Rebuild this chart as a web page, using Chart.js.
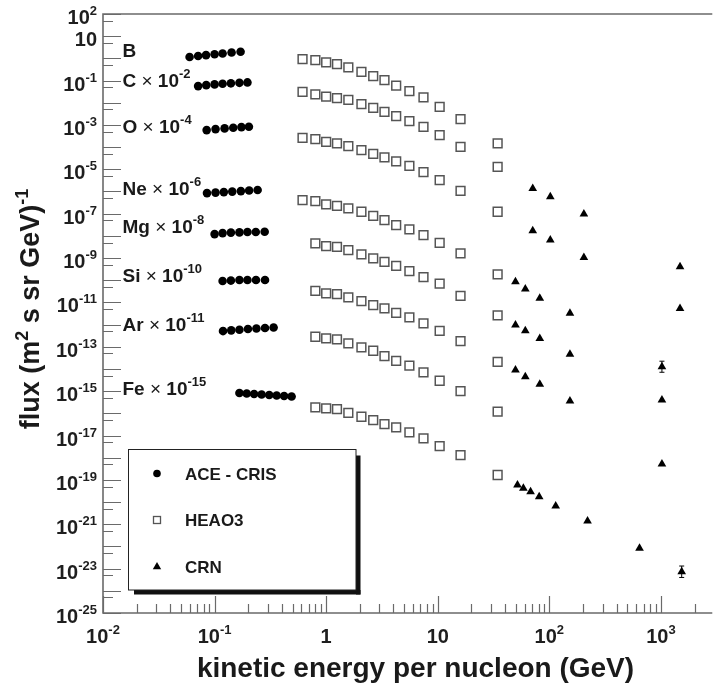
<!DOCTYPE html>
<html><head><meta charset="utf-8">
<script src="https://cdn.jsdelivr.net/npm/chart.js@4.4.1/dist/chart.umd.min.js"></script>
<style>html,body{margin:0;padding:0;background:#fff;}canvas{display:block;}</style>
</head><body>
<canvas id="c" width="718" height="684"></canvas>
<script>
// ---------------- DATA ----------------
// ACE-CRIS (filled circles): kinetic energy per nucleon (GeV) and scaled flux
const ACE_B_E  = [0.0597, 0.0712, 0.0838, 0.100, 0.118, 0.142, 0.171];
const ACE_B_F  = [1.15, 1.27, 1.40, 1.53, 1.67, 1.83, 1.99];
const ACE_C_E  = [0.0712, 0.0842, 0.100, 0.118, 0.140, 0.167, 0.197];
const ACE_C_F  = [0.0561, 0.0622, 0.067, 0.0713, 0.075, 0.079, 0.0824];
const ACE_O_E  = [0.0849, 0.102, 0.123, 0.147, 0.174, 0.203];
const ACE_O_F  = [5.85e-4, 6.49e-4, 6.97e-4, 7.41e-4, 7.98e-4, 8.22e-4];
const ACE_Ne_E = [0.0855, 0.102, 0.121, 0.144, 0.172, 0.204, 0.243];
const ACE_Ne_F = [8.45e-7, 8.91e-7, 9.37e-7, 9.88e-7, 1.04e-6, 1.10e-6, 1.16e-6];
const ACE_Mg_E = [0.100, 0.118, 0.140, 0.167, 0.197, 0.234, 0.281];
const ACE_Mg_F = [1.20e-8, 1.33e-8, 1.40e-8, 1.43e-8, 1.48e-8, 1.48e-8, 1.52e-8];
const ACE_Si_E = [0.118, 0.140, 0.167, 0.197, 0.235, 0.283];
const ACE_Si_F = [9.17e-11, 9.64e-11, 1.02e-10, 1.02e-10, 1.02e-10, 1.02e-10];
const ACE_Ar_E = [0.119, 0.141, 0.167, 0.199, 0.237, 0.283, 0.338];
const ACE_Ar_F = [5.10e-13, 5.50e-13, 5.85e-13, 6.28e-13, 6.62e-13, 6.98e-13, 7.35e-13];
const ACE_Fe_E = [0.167, 0.194, 0.226, 0.264, 0.309, 0.360, 0.420, 0.490];
const ACE_Fe_F = [8.20e-16, 7.80e-16, 7.40e-16, 7.03e-16, 6.67e-16, 6.34e-16, 6.01e-16, 5.72e-16];

// HEAO3 (open squares)
const HEAO_E    = [0.614, 0.80, 1.0, 1.25, 1.58, 2.07, 2.64, 3.33, 4.24, 5.57, 7.45, 10.4, 16.0, 34.4];
const HEAO_E_HI = HEAO_E.slice(1); // Mg, Si, Ar, Fe start at 0.8 GeV
const HEAO_B_F  = [0.925, 0.834, 0.656, 0.551, 0.391, 0.248, 0.158, 0.105, 0.0592, 0.0334, 0.0174, 0.00655, 0.00183, 1.47e-4];
const HEAO_C_F  = [0.0311, 0.0237, 0.0189, 0.0162, 0.01355, 0.00867, 0.00585, 0.0039, 0.00249, 0.00149, 8.24e-4, 3.48e-4, 1.03e-4, 1.30e-5];
const HEAO_O_F  = [2.63e-4, 2.30e-4, 1.73e-4, 1.47e-4, 1.11e-4, 7.33e-5, 4.99e-5, 3.48e-5, 2.29e-5, 1.42e-5, 7.48e-6, 3.26e-6, 1.06e-6, 1.22e-7];
const HEAO_Ne_F = [4.09e-7, 3.69e-7, 2.62e-7, 2.26e-7, 1.73e-7, 1.22e-7, 8.02e-8, 5.14e-8, 3.05e-8, 1.95e-8, 1.08e-8, 4.88e-9, 1.62e-9, 1.83e-10];
const HEAO_Mg_F = [4.57e-9, 3.46e-9, 3.22e-9, 2.29e-9, 1.46e-9, 9.66e-10, 6.79e-10, 4.48e-10, 2.58e-10, 1.39e-10, 7.06e-11, 1.99e-11, 2.61e-12];
const HEAO_Si_F = [3.35e-11, 2.55e-11, 2.38e-11, 1.69e-11, 1.15e-11, 7.59e-12, 5.38e-12, 3.41e-12, 2.12e-12, 1.14e-12, 5.27e-13, 1.81e-13, 2.11e-14];
const HEAO_Ar_F = [2.83e-13, 2.39e-13, 2.16e-13, 1.43e-13, 9.42e-14, 6.62e-14, 3.82e-14, 2.34e-14, 1.40e-14, 7.03e-15, 2.94e-15, 1.01e-15, 1.18e-16];
const HEAO_Fe_F = [1.86e-16, 1.68e-16, 1.56e-16, 1.06e-16, 7.01e-17, 4.99e-17, 3.29e-17, 2.34e-17, 1.39e-17, 7.46e-18, 3.36e-18, 1.32e-18, 1.66e-19];

// CRN (filled triangles)
const CRN_C_E  = [71, 102, 204, 1483];
const CRN_C_F  = [1.38e-6, 5.77e-7, 9.57e-8, 4.04e-10];
const CRN_O_E  = [71, 102, 204, 1483];
const CRN_O_F  = [1.69e-8, 6.44e-9, 1.07e-9, 5.38e-12];
const CRN_NMS_E = [49.7, 60.9, 82.1, 153, 1021];
const CRN_Ne_F = [8.51e-11, 3.99e-11, 1.52e-11, 3.21e-12, 1.26e-14];
const CRN_Mg_F = [9.53e-13, 5.27e-13, 2.39e-13, 4.55e-14, 3.97e-16];
const CRN_Si_F = [8.93e-15, 4.46e-15, 2.02e-15, 3.58e-16, 5.19e-19];
const CRN_Fe_E = [51.8, 58.5, 67.9, 81.1, 114, 220, 643, 1535];
const CRN_Fe_F = [5.86e-20, 4.17e-20, 2.92e-20, 1.74e-20, 6.64e-21, 1.40e-21, 8.24e-23, 7.26e-24];
// error bars on two CRN points
const ERR_E  = [1021, 1535];
const ERR_LO = [7.1e-15, 4.0e-24];
const ERR_HI = [2.24e-14, 1.31e-23];

// tick labels
const X_TICK_EXP = [-2, -1, 0, 1, 2, 3];
const Y_TICK_EXP = [2, 1, -1, -3, -5, -7, -9, -11, -13, -15, -17, -19, -21, -23, -25];

// element annotations
const EL_SYM   = ['B', 'C', 'O', 'Ne', 'Mg', 'Si', 'Ar', 'Fe'];
const EL_SCALE = [null, '-2', '-4', '-6', '-8', '-10', '-11', '-15'];

const LEGEND_LABELS = ['ACE - CRIS', 'HEAO3', 'CRN'];

// ---------------- build ----------------
const FONT = '"Liberation Sans", Arial, Helvetica, sans-serif';
const toPts = (E, F) => E.map((e, i) => ({x: e, y: F[i]}));
const acePts = [].concat(
  toPts(ACE_B_E, ACE_B_F), toPts(ACE_C_E, ACE_C_F), toPts(ACE_O_E, ACE_O_F),
  toPts(ACE_Ne_E, ACE_Ne_F), toPts(ACE_Mg_E, ACE_Mg_F), toPts(ACE_Si_E, ACE_Si_F),
  toPts(ACE_Ar_E, ACE_Ar_F), toPts(ACE_Fe_E, ACE_Fe_F));
const heaoPts = [].concat(
  toPts(HEAO_E, HEAO_B_F), toPts(HEAO_E, HEAO_C_F), toPts(HEAO_E, HEAO_O_F),
  toPts(HEAO_E, HEAO_Ne_F), toPts(HEAO_E_HI, HEAO_Mg_F), toPts(HEAO_E_HI, HEAO_Si_F),
  toPts(HEAO_E_HI, HEAO_Ar_F), toPts(HEAO_E_HI, HEAO_Fe_F));
const crnPts = [].concat(
  toPts(CRN_C_E, CRN_C_F), toPts(CRN_O_E, CRN_O_F), toPts(CRN_NMS_E, CRN_Ne_F),
  toPts(CRN_NMS_E, CRN_Mg_F), toPts(CRN_NMS_E, CRN_Si_F), toPts(CRN_Fe_E, CRN_Fe_F));

function drawParts(ctx, parts, x, y, align) {
  let w = 0;
  parts.forEach(p => { ctx.font = p.f; p.w = ctx.measureText(p.t).width; w += p.w; });
  let cx = align === 'center' ? x - w / 2 : (align === 'right' ? x - w : x);
  ctx.textAlign = 'left';
  ctx.textBaseline = 'alphabetic';
  parts.forEach(p => { ctx.font = p.f; ctx.fillText(p.t, cx, y + (p.dy || 0)); cx += p.w; });
}

const AXIS_COLOR = '#6a6a6a';

const framePlugin = {
  id: 'frame',
  afterDatasetsDraw(chart) {
    const ctx = chart.ctx, xs = chart.scales.x, ys = chart.scales.y, a = chart.chartArea;
    ctx.save();
    // error bars
    ctx.strokeStyle = '#000'; ctx.lineWidth = 1;
    for (let i = 0; i < ERR_E.length; i++) {
      const px = xs.getPixelForValue(ERR_E[i]);
      const y1 = ys.getPixelForValue(ERR_LO[i]), y2 = ys.getPixelForValue(ERR_HI[i]);
      ctx.beginPath();
      ctx.moveTo(px, y1); ctx.lineTo(px, y2);
      ctx.moveTo(px - 2.5, y1); ctx.lineTo(px + 2.5, y1);
      ctx.moveTo(px - 2.5, y2); ctx.lineTo(px + 2.5, y2);
      ctx.stroke();
    }
    // frame
    ctx.strokeStyle = AXIS_COLOR; ctx.lineWidth = 1.6;
    ctx.beginPath();
    ctx.moveTo(a.right + 2, a.top); ctx.lineTo(a.left, a.top); ctx.lineTo(a.left, a.bottom); ctx.lineTo(a.right + 2, a.bottom);
    ctx.stroke();
    // x ticks
    ctx.lineWidth = 1.2;
    ctx.beginPath();
    for (let e = -2; e <= 3; e++) {
      for (let k = 1; k <= 9; k++) {
        const v = k * Math.pow(10, e);
        if (v < xs.min || v > xs.max) continue;
        const px = Math.round(xs.getPixelForValue(v)) + 0.5;
        const len = k === 1 ? 17 : 9;
        ctx.moveTo(px, a.bottom); ctx.lineTo(px, a.bottom - len);
      }
    }
    // y ticks
    for (let e = -25; e <= 2; e++) {
      [1, 5].forEach(k => {
        const v = k * Math.pow(10, e);
        if (v < ys.min || v > ys.max) return;
        const py = Math.round(ys.getPixelForValue(v)) + 0.5;
        const len = k === 1 ? 18 : 10;
        ctx.moveTo(a.left, py); ctx.lineTo(a.left + len, py);
      });
    }
    ctx.stroke();

    // tick labels
    ctx.fillStyle = '#1e1e1e';
    const BF = 'bold 20px ' + FONT, SF = 'bold 13px ' + FONT;
    X_TICK_EXP.forEach(e => {
      const px = xs.getPixelForValue(Math.pow(10, e));
      let parts;
      if (e === 0) parts = [{t: '1', f: BF}];
      else if (e === 1) parts = [{t: '10', f: BF}];
      else parts = [{t: '10', f: BF}, {t: String(e), f: SF, dy: -9}];
      drawParts(ctx, parts, px, 643, 'center');
    });
    Y_TICK_EXP.forEach(e => {
      const py = ys.getPixelForValue(Math.pow(10, e));
      let parts;
      if (e === 1) parts = [{t: '10', f: BF}];
      else parts = [{t: '10', f: BF}, {t: String(e), f: SF, dy: -9}];
      drawParts(ctx, parts, 97, py + 10, 'right');
    });

    // axis titles
    ctx.fillStyle = '#1a1a1a';
    const TF = 'bold 28px ' + FONT;
    drawParts(ctx, [{t: 'kinetic energy per nucleon (GeV)', f: TF}], 415.5, 677, 'center');
    ctx.save();
    ctx.translate(39, 309);
    ctx.rotate(-Math.PI / 2);
    const YF = 'bold 27px ' + FONT, YS = 'bold 18px ' + FONT;
    drawParts(ctx, [{t: 'flux (m', f: YF}, {t: '2', f: YS, dy: -11}, {t: ' s sr GeV)', f: YF}, {t: '-1', f: YS, dy: -11}], 0, 0, 'center');
    ctx.restore();

    // element annotations
    const LB = [57, 87, 132.5, 194.5, 233, 282, 331, 395];
    const EF = 'bold 19px ' + FONT, XF = '19px ' + FONT, ES = 'bold 13px ' + FONT;
    EL_SYM.forEach((s, i) => {
      const parts = [{t: s, f: EF}];
      if (EL_SCALE[i]) {
        parts.push({t: ' \u00D7 ', f: XF}, {t: '10', f: EF}, {t: EL_SCALE[i], f: ES, dy: -9});
      }
      drawParts(ctx, parts, 122.5, LB[i], 'left');
    });

    // legend box with shadow
    const L = 128.5, T = 449.5, R = 356, B = 590;
    ctx.fillStyle = '#111';
    ctx.fillRect(134, B, R + 4.5 - 134, 4.5);
    ctx.fillRect(R, T + 6, 4.5, B + 4.5 - T - 6);
    ctx.fillStyle = '#fff';
    ctx.fillRect(L, T, R - L, B - T);
    ctx.strokeStyle = '#222'; ctx.lineWidth = 1;
    ctx.strokeRect(L, T, R - L, B - T);
    const ly = [473.5, 520, 566.5];
    ctx.fillStyle = '#000';
    ctx.beginPath(); ctx.arc(157, ly[0], 3.8, 0, Math.PI * 2); ctx.fill();
    ctx.strokeStyle = '#555'; ctx.lineWidth = 1.3;
    ctx.strokeRect(153.5, ly[1] - 3.5, 7, 7);
    ctx.fillStyle = '#000';
    ctx.beginPath(); ctx.moveTo(157, ly[2] - 4.5); ctx.lineTo(161.2, ly[2] + 2.7); ctx.lineTo(152.8, ly[2] + 2.7); ctx.closePath(); ctx.fill();
    ctx.fillStyle = '#1a1a1a';
    LEGEND_LABELS.forEach((t, i) => drawParts(ctx, [{t, f: 'bold 17px ' + FONT}], 185, ly[i] + 6.3, 'left'));
    ctx.restore();
  }
};

new Chart(document.getElementById('c').getContext('2d'), {
  type: 'scatter',
  data: {
    datasets: [
      {label: LEGEND_LABELS[0], data: acePts, pointStyle: 'circle', pointRadius: 4.3, backgroundColor: '#000', borderColor: '#000', borderWidth: 0},
      {label: LEGEND_LABELS[1], data: heaoPts, pointStyle: 'rect', pointRadius: 6.2, backgroundColor: '#fff', borderColor: '#555', borderWidth: 1.5},
      {label: LEGEND_LABELS[2], data: crnPts, pointStyle: 'triangle', pointRadius: 5, backgroundColor: '#000', borderColor: '#000', borderWidth: 0}
    ]
  },
  options: {
    responsive: false, animation: false, devicePixelRatio: 1, events: [],
    layout: {padding: {left: 103, top: 14, right: 0, bottom: 71}},
    plugins: {legend: {display: false}, tooltip: {enabled: false}},
    scales: {
      x: {type: 'logarithmic', min: 0.01, max: 2770, display: false},
      y: {type: 'logarithmic', min: 1e-25, max: 100, display: false}
    }
  },
  plugins: [framePlugin]
});
</script>
</body></html>
